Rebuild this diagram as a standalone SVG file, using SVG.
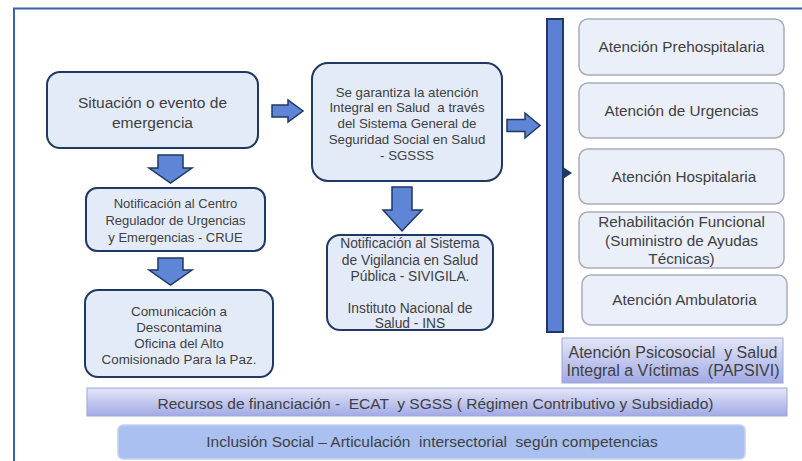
<svg xmlns="http://www.w3.org/2000/svg" width="802" height="461" viewBox="0 0 802 461">
<defs>
<style>
.box{fill:#e4ebf8;stroke:#1f3864;stroke-width:2}
.rbox{fill:#ebeff9;stroke:#a9adb5;stroke-width:1.5}
.arr{fill:#5f86d6;stroke:#1f3864;stroke-width:1.5;stroke-linejoin:miter}
.bar{fill:#5b80d6;stroke:#1f3864;stroke-width:2}
text{font-family:"Liberation Sans",Arial,sans-serif;fill:#404040;text-anchor:middle}
.tsit{font-size:15.5px}
.tcrue{font-size:13px}
.tcom{font-size:13.4px}
.tsg{font-size:13.3px}
.tsiv{font-size:13.8px}
.tr{font-size:15.3px}
.tpap{font-size:16px}
.tbar{font-size:15.5px}
.pre{white-space:pre}
</style>
<linearGradient id="lav" x1="0" y1="0" x2="0" y2="1">
<stop offset="0" stop-color="#e3e6f7"/>
<stop offset="1" stop-color="#a2aae6"/>
</linearGradient>
</defs>
<rect width="802" height="461" fill="#ffffff"/>
<g id="frame" fill="none" stroke="#3a62a7" stroke-width="2">
<path d="M14,461 V8.5 H802"/>
</g>
<g id="connectors">
<path class="arr" d="M272,105 H288 V100 L303,111 L288,122 V117 H272 Z"/>
<path class="arr" d="M507,119.5 H525 V113 L540,125.5 L525,138 V131.5 H507 Z"/>
<path class="arr" d="M158,155 H183 V168 H192 L170.5,183 L149,168 H158 Z"/>
<path class="arr" d="M158,258 H183 V270 H192 L170.5,285 L149,270 H158 Z"/>
<path class="arr" d="M392,187 H412 V210 H422 L402,231 L383,210 H392 Z"/>
<path d="M563,167 L572,173 L563,179 Z" fill="#1f3864"/>
</g>
<g id="bracket">
<rect class="bar" x="547" y="19" width="16" height="313"/>
</g>
<g id="n-situacion">
<rect class="box" x="47" y="72" width="211" height="76" rx="13"/>
<text class="tsit" x="152.5" y="107.5">Situación o evento de</text>
<text class="tsit" x="152.5" y="127.5">emergencia</text>
</g>
<g id="n-crue">
<rect class="box" x="86" y="188" width="179" height="63" rx="11"/>
<text class="tcrue" x="175.5" y="207.5">Notificación al Centro</text>
<text class="tcrue" x="175.5" y="224.5">Regulador de Urgencias</text>
<text class="tcrue" x="175.5" y="241.5">y Emergencias - CRUE</text>
</g>
<g id="n-comunicacion">
<rect class="box" x="85" y="290" width="188" height="87" rx="13"/>
<text class="tcom" x="179" y="315.5">Comunicación a</text>
<text class="tcom" x="179" y="331.5">Descontamina</text>
<text class="tcom" x="179" y="347.5">Oficina del Alto</text>
<text class="tcom" x="179" y="363.5">Comisionado Para la Paz.</text>
</g>
<g id="n-sgsss">
<rect class="box" x="312" y="63" width="190" height="118" rx="16"/>
<text class="tsg pre" x="407" y="96.5">Se garantiza la atención</text>
<text class="tsg pre" x="407" y="112">Integral en Salud  a través</text>
<text class="tsg" x="407" y="127.5">del Sistema General de</text>
<text class="tsg" x="407" y="143.5">Seguridad Social en Salud</text>
<text class="tsg" x="407" y="159.5">- SGSSS</text>
</g>
<g id="n-sivigila">
<rect class="box" x="327" y="235" width="166" height="95" rx="13"/>
<text class="tsiv" x="410" y="247.5">Notificación al Sistema</text>
<text class="tsiv" x="410" y="264.5">de Vigilancia en Salud</text>
<text class="tsiv" x="410" y="280.5">Pública - SIVIGILA.</text>
<text class="tsiv" x="410" y="312.5">Instituto Nacional de</text>
<text class="tsiv" x="410" y="327.5">Salud - INS</text>
</g>
<g id="n-prehospitalaria">
<rect class="rbox" x="579" y="19" width="205" height="56" rx="9"/>
<text class="tr" x="681.5" y="52">Atención Prehospitalaria</text>
</g>
<g id="n-urgencias">
<rect class="rbox" x="579" y="83" width="205" height="55" rx="9"/>
<text class="tr" x="681.5" y="115.5">Atención de Urgencias</text>
</g>
<g id="n-hospitalaria">
<rect class="rbox" x="579" y="149" width="205" height="55" rx="9"/>
<text class="tr" x="684" y="182">Atención Hospitalaria</text>
</g>
<g id="n-rehabilitacion">
<rect class="rbox" x="579" y="212" width="205" height="56" rx="9"/>
<text class="tr" x="681.5" y="227">Rehabilitación Funcional</text>
<text class="tr" x="681.5" y="246">(Suministro de Ayudas</text>
<text class="tr" x="681.5" y="264">Técnicas)</text>
</g>
<g id="n-ambulatoria">
<rect class="rbox" x="582" y="275" width="205" height="50" rx="9"/>
<text class="tr" x="684.5" y="305">Atención Ambulatoria</text>
</g>
<g id="n-papsivi">
<rect x="562" y="338" width="221" height="45" fill="url(#lav)" stroke="#9ea6d6" stroke-width="1"/>
<text class="tpap pre" x="673" y="357.5">Atención Psicosocial  y Salud</text>
<text class="tpap pre" x="673" y="375.5">Integral a Víctimas  (PAPSIVI)</text>
</g>
<g id="n-recursos">
<rect x="87" y="388" width="700" height="28" fill="url(#lav)" stroke="#9ea6d6" stroke-width="1"/>
<text class="tbar pre" x="435.5" y="409">Recursos de financiación -  ECAT  y SGSS ( Régimen Contributivo y Subsidiado)</text>
</g>
<g id="n-inclusion">
<rect x="118" y="425" width="627" height="34" rx="5" fill="#a9c0f1" stroke="#c3d1f2" stroke-width="1.5"/>
<text class="tbar pre" x="432" y="447">Inclusión Social – Articulación  intersectorial  según competencias</text>
</g>
</svg>
